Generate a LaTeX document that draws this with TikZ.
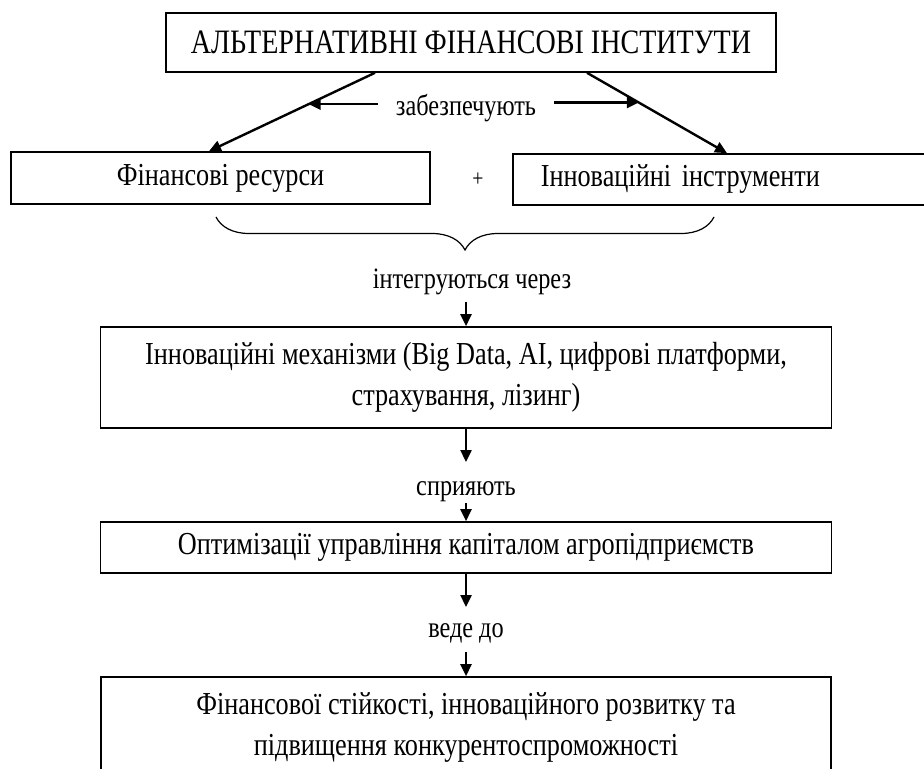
\documentclass[tikz,border=0pt]{standalone}
\usepackage{fontspec}
\setmainfont{Liberation Serif}[FakeStretch=0.82]
\usetikzlibrary{positioning, arrows.meta, decorations.pathreplacing}

\begin{document}
\begin{tikzpicture}[x=1pt, y=-1pt, >={Triangle[length=6pt,width=5.5pt]},
  box/.style={draw, line width=.8pt, inner sep=0pt, align=center, font=\fontsize{16}{20.5}\selectfont},
  lbl/.style={inner sep=0pt, font=\fontsize{14.8}{16}\selectfont},
  arr/.style={->, line width=1.2pt}]
\useasboundingbox (0,0) rectangle (462,384.5);

\node[box, minimum width=305pt, minimum height=29.5pt, font=\fontsize{17.1}{20}\selectfont] (inst) at (235.5,21.25) {АЛЬТЕРНАТИВНІ ФІНАНСОВІ ІНСТИТУТИ};
\node[box, minimum width=209.5pt, minimum height=26pt] (res) at (110.25,89) {Фінансові ресурси};
\node[box, anchor=west, minimum height=25.5pt, text width=212pt, inner xsep=14pt, align=left] (instr) at (256,89.75) {Інноваційні інструменти};
\node[lbl, font=\fontsize{12}{13}\selectfont] (plus) at (239,90) {+};
\node[lbl, inner xsep=9pt] (zab) at (233,54) {забезпечують};

\draw[arr] ([xshift=-48pt]inst.south) -- ([xshift=-5.75pt]res.north) coordinate[pos=.4] (lt);
\draw[arr] ([xshift=58pt]inst.south) -- ([xshift=107.5pt]instr.north west) coordinate[pos=.37] (rt);
\draw[arr] (zab.west |- lt) -- (lt);
\draw[arr] (zab.east |- rt) -- (rt);

% brace under the two boxes
\coordinate (b1) at (108,108.5);
\coordinate (b2) at (357,108.5);
\draw[line width=.6pt, decorate, decoration={brace, mirror, amplitude=16.5pt}] (b1) -- (b2);

\node[lbl] (lblint) at (236,141) {інтегруються через};
\node[box, minimum width=365.5pt, minimum height=50.5pt] (mech) at (233,188.75) {Інноваційні механізми (Big Data, AI, цифрові платформи,\\ страхування, лізинг)};
\node[lbl] (lblspr) at (233,246) {сприяють};
\node[box, minimum width=365.5pt, minimum height=25.5pt] (opt) at (233,273.75) {Оптимізації управління капіталом агропідприємств};
\node[lbl] (lblved) at (233,316.5) {веде до};
\node[box, minimum width=365pt, minimum height=50.5pt] (bot) at (233,363.75) {Фінансової стійкості, інноваційного розвитку та\\ підвищення конкурентоспроможності};

\draw[arr] ([xshift=-3pt,yshift=-10pt]lblint.center) -- (mech.north);
\draw[arr] (mech.south) -- ([yshift=15pt]lblspr.center);
\draw[arr] ([yshift=-5.5pt]lblspr.center) -- (opt.north);
\draw[arr] (opt.south) -- ([yshift=13pt]lblved.center);
\draw[arr] ([yshift=-9.5pt]lblved.center) -- (bot.north);

\end{tikzpicture}
\end{document}
